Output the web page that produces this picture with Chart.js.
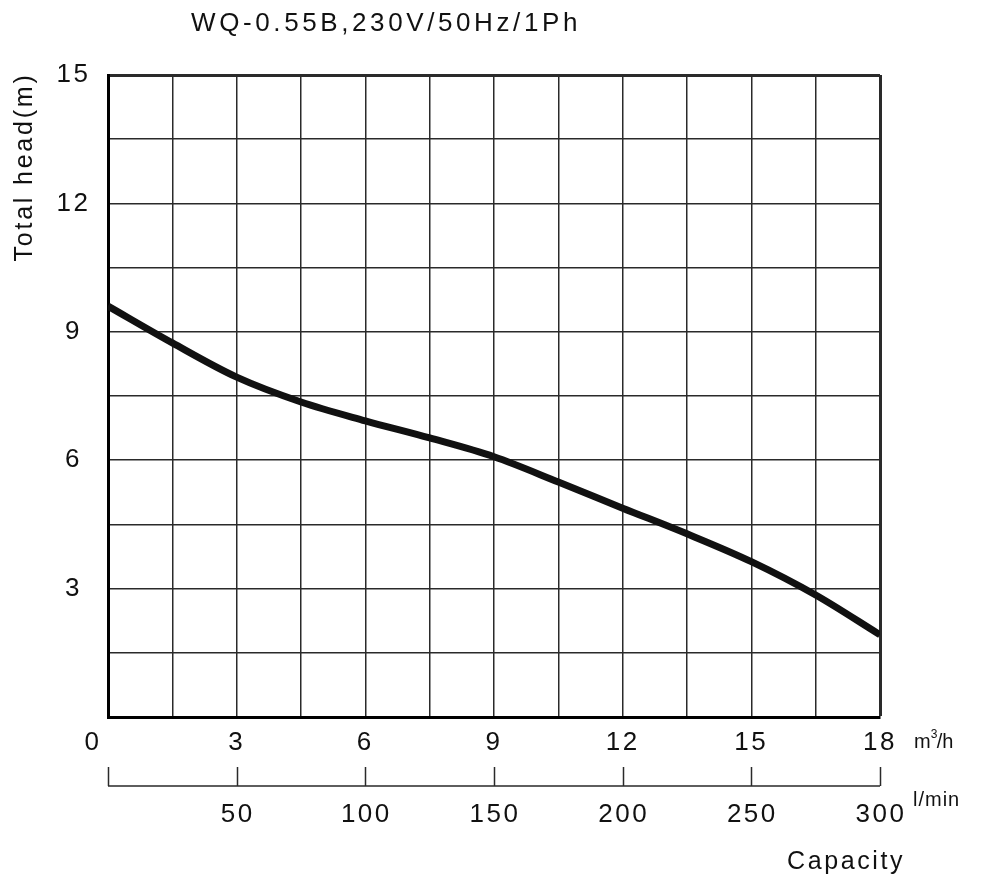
<!DOCTYPE html>
<html>
<head>
<meta charset="utf-8">
<script src="https://cdn.jsdelivr.net/npm/chart.js@4.4.1/dist/chart.umd.min.js"></script>
<style>
html, body { margin: 0; padding: 0; background: #fff; }
#wrap { position: relative; width: 1000px; height: 882px; }
</style>
</head>
<body>
<div id="wrap"><canvas id="chartCurva" width="1000" height="882"></canvas></div>
<script>
/* ---- Dados da curva ---- */
var TITULO      = 'WQ-0.55B,230V/50Hz/1Ph';
var TITULO_Y    = 'Total head(m)';
var TITULO_X    = 'Capacity';
var VAZAO_M3H   = [0, 1.5, 3, 4.5, 6, 7.5, 9, 10.5, 12, 13.5, 15, 16.5, 18];
var ALTURA_M    = [9.6, 8.74, 7.94, 7.36, 6.92, 6.52, 6.08, 5.49, 4.88, 4.28, 3.63, 2.85, 1.92];
var TICKS_M3H   = [3, 6, 9, 12, 15, 18];
var TICKS_Y     = [3, 6, 9, 12, 15];
var TICKS_LMIN  = [0, 50, 100, 150, 200, 250, 300];
var LMIN_MAX    = 300;
var M3H_MAX     = 18;

var FONTE = '"Liberation Sans", Arial, Helvetica, sans-serif';
var COR_TEXTO = '#111';
var COR_GRADE = '#2a2a2a';

function temTick(lista, v) {
    for (var i = 0; i < lista.length; i++) { if (Math.abs(lista[i] - v) < 1e-6) return true; }
    return false;
}

/* ---- Textos e eixo l/min desenhados por cima ---- */
var extras = {
    id: 'extras',
    beforeDraw: function(chart) { chart.ctx.letterSpacing = '2.5px'; },
    afterDraw: function(chart) {
        var ctx = chart.ctx, sx = chart.scales.x, area = chart.chartArea;
        ctx.save();
        ctx.fillStyle = COR_TEXTO;
        ctx.strokeStyle = COR_GRADE;

        // titulo
        ctx.letterSpacing = '3.6px';
        ctx.font = '26px ' + FONTE;
        ctx.textAlign = 'center'; ctx.textBaseline = 'middle';
        ctx.fillText(TITULO, 386, 24);

        // titulo eixo y
        ctx.letterSpacing = '2.8px';
        ctx.font = '25px ' + FONTE;
        ctx.save();
        ctx.translate(25, 167);
        ctx.rotate(-Math.PI / 2);
        ctx.textAlign = 'center'; ctx.textBaseline = 'middle';
        ctx.fillText(TITULO_Y, 0, 0);
        ctx.restore();

        // "0" do eixo m3/h, deslocado p/ esquerda
        ctx.letterSpacing = '2.5px';
        ctx.font = '26px ' + FONTE;
        ctx.textAlign = 'center'; ctx.textBaseline = 'middle';
        ctx.fillText('0', sx.getPixelForValue(0) - 15, 743);

        // eixo l/min
        var yLinha = 786;
        ctx.lineWidth = 1.5;
        ctx.beginPath();
        ctx.moveTo(sx.getPixelForValue(0), yLinha);
        ctx.lineTo(sx.getPixelForValue(M3H_MAX), yLinha);
        TICKS_LMIN.forEach(function(v) {
            var px = Math.round(sx.getPixelForValue(v * M3H_MAX / LMIN_MAX)) + 0.5;
            ctx.moveTo(px, yLinha);
            ctx.lineTo(px, yLinha - 19);
        });
        ctx.stroke();
        TICKS_LMIN.forEach(function(v) {
            if (v === 0) return;
            ctx.fillText(String(v), sx.getPixelForValue(v * M3H_MAX / LMIN_MAX) + 1, 815);
        });

        // unidades
        ctx.textAlign = 'left'; ctx.textBaseline = 'alphabetic';
        ctx.letterSpacing = '1px';
        ctx.font = '20px ' + FONTE;
        var xu = area.right + 34;
        ctx.fillText('m', xu, 748);
        var wm = ctx.measureText('m').width;
        ctx.font = '12px ' + FONTE;
        ctx.letterSpacing = '0px';
        ctx.fillText('3', xu + wm - 1, 738);
        ctx.font = '20px ' + FONTE;
        ctx.fillText('/h', xu + wm + 5, 748);
        ctx.letterSpacing = '1px';
        ctx.fillText('l/min', xu - 1, 806);

        // titulo eixo x
        ctx.letterSpacing = '2.6px';
        ctx.font = '25px ' + FONTE;
        ctx.fillText(TITULO_X, 787, 869);
        ctx.restore();
    }
};

var pontos = VAZAO_M3H.map(function(q, i) { return { x: q, y: ALTURA_M[i] }; });

new Chart(document.getElementById('chartCurva'), {
    type: 'line',
    data: {
        datasets: [{
            data: pontos,
            borderColor: '#111',
            borderWidth: 7,
            pointRadius: 0,
            fill: false,
            cubicInterpolationMode: 'monotone'
        }]
    },
    options: {
        responsive: false, animation: false,
        devicePixelRatio: 1,
        layout: { padding: { top: 75, right: 120, left: 0, bottom: 0 } },
        plugins: { legend: { display: false }, tooltip: { enabled: false }, title: { display: false } },
        scales: {
            x: {
                type: 'linear', min: 0, max: M3H_MAX,
                afterFit: function(s) { s.height = 165; },
                afterBuildTicks: function(s) {
                    var t = []; for (var v = 0; v <= M3H_MAX + 1e-6; v += 1.5) t.push({ value: v });
                    s.ticks = t;
                },
                ticks: {
                    autoSkip: false, maxRotation: 0, padding: 10,
                    color: COR_TEXTO, font: { family: FONTE, size: 26 },
                    callback: function(v) { return temTick(TICKS_M3H, v) ? String(v) : ''; }
                },
                grid: {
                    drawTicks: false, color: COR_GRADE,
                    lineWidth: function(c) { return (c.tick && c.tick.value === M3H_MAX) ? 3 : 1.5; }
                },
                border: { display: true, color: '#000', width: 3 }
            },
            y: {
                type: 'linear', min: 0, max: 15,
                afterFit: function(s) { s.width = 108; },
                afterBuildTicks: function(s) {
                    var t = []; for (var v = 0; v <= 15 + 1e-6; v += 1.5) t.push({ value: v });
                    s.ticks = t;
                },
                ticks: {
                    autoSkip: false, padding: 20, crossAlign: 'center',
                    color: COR_TEXTO, font: { family: FONTE, size: 26 },
                    callback: function(v) { return temTick(TICKS_Y, v) ? String(v) : ''; }
                },
                grid: {
                    drawTicks: false, color: COR_GRADE,
                    lineWidth: function(c) { return (c.tick && c.tick.value === 15) ? 3 : 1.5; }
                },
                border: { display: true, color: '#000', width: 3 }
            }
        }
    },
    plugins: [extras]
});
</script>
</body>
</html>
